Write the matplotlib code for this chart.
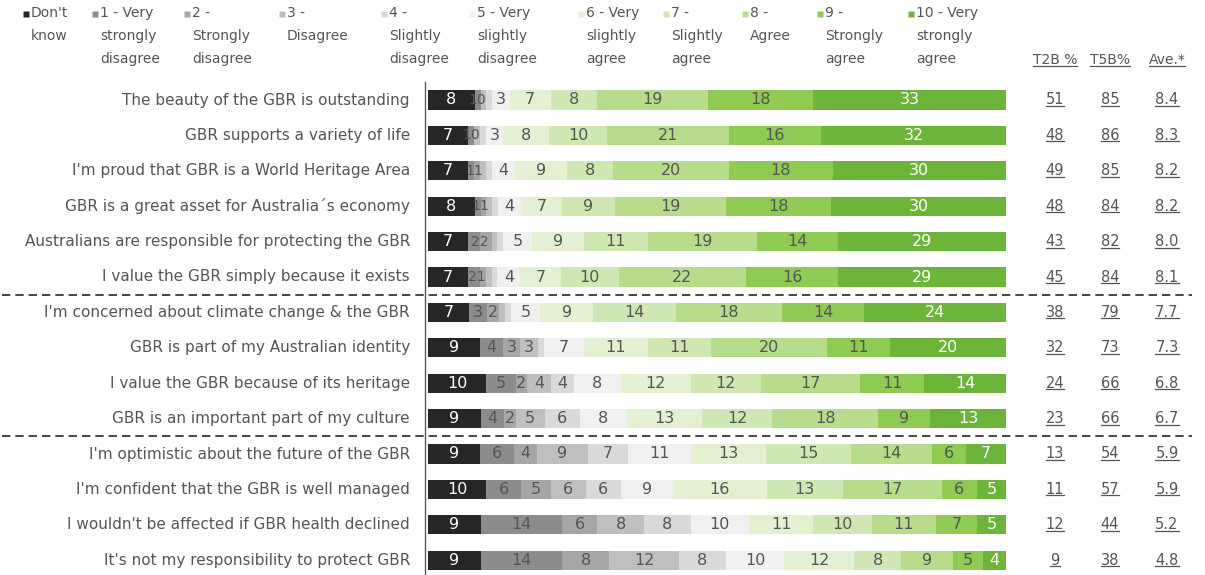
import matplotlib.pyplot as plt
import numpy as np

# 1. Data (percent of respondents per rating, one list per rating category)
statements = [
    "The beauty of the GBR is outstanding",
    "GBR supports a variety of life",
    "I'm proud that GBR is a World Heritage Area",
    "GBR is a great asset for Australia\u00b4s economy",
    "Australians are responsible for protecting the GBR",
    "I value the GBR simply because it exists",
    "I'm concerned about climate change & the GBR",
    "GBR is part of my Australian identity",
    "I value the GBR because of its heritage",
    "GBR is an important part of my culture",
    "I'm optimistic about the future of the GBR",
    "I'm confident that the GBR is well managed",
    "I wouldn't be affected if GBR health declined",
    "It's not my responsibility to protect GBR",
]

dont_know = [8, 7, 7, 8, 7, 7, 7, 9, 10, 9, 9, 10, 9, 9]
r1 = [1, 1, 1, 1, 2, 2, 3, 4, 5, 4, 6, 6, 14, 14]
r2 = [0, 0, 1, 1, 2, 1, 2, 3, 2, 2, 4, 5, 6, 8]
r3 = [1, 1, 1, 1, 1, 1, 1, 3, 4, 5, 9, 6, 8, 12]
r4 = [1, 1, 1, 1, 1, 1, 1, 1, 4, 6, 7, 6, 8, 8]
r5 = [3, 3, 4, 4, 5, 4, 5, 7, 8, 8, 11, 9, 10, 10]
r6 = [7, 8, 9, 7, 9, 7, 9, 11, 12, 13, 13, 16, 11, 12]
r7 = [8, 10, 8, 9, 11, 10, 14, 11, 12, 12, 15, 13, 10, 8]
r8 = [19, 21, 20, 19, 19, 22, 18, 20, 17, 18, 14, 17, 11, 9]
r9 = [18, 16, 18, 18, 14, 16, 14, 11, 11, 9, 6, 6, 7, 5]
r10 = [33, 32, 30, 30, 29, 29, 24, 20, 14, 13, 7, 5, 5, 4]

t2b = ["51", "48", "49", "48", "43", "45", "38", "32", "24", "23", "13", "11", "12", "9"]
t5b = ["85", "86", "85", "84", "82", "84", "79", "73", "66", "66", "54", "57", "44", "38"]
ave = ["8.4", "8.3", "8.2", "8.2", "8.0", "8.1", "7.7", "7.3", "6.8", "6.7", "5.9", "5.9", "5.2", "4.8"]

legend_labels = [
    "Don't\nknow", "1 - Very\nstrongly\ndisagree", "2 -\nStrongly\ndisagree",
    "3 -\nDisagree", "4 -\nSlightly\ndisagree", "5 - Very\nslightly\ndisagree",
    "6 - Very\nslightly\nagree", "7 -\nSlightly\nagree", "8 -\nAgree",
    "9 -\nStrongly\nagree", "10 - Very\nstrongly\nagree",
]
headers = ["T2B %", "T5B%", "Ave.*"]

# 2. Styling
colors = ['#262626', '#8c8c8c', '#a6a6a6', '#bfbfbf', '#d9d9d9', '#f0f0f0',
          '#e3f1d2', '#cfe8b3', '#b6dc8c', '#8fcb52', '#6db43a']
white_text = {0, 10}
text_col = '#555555'
plt.rcParams['font.family'] = ['DejaVu Sans']

W, H = 1205, 575
bar_x0, bar_x1 = 428, 1006
row0_px, row_step = 100, 35.4
px_per_pct = (bar_x1 - bar_x0) / 100.0

fig = plt.figure(figsize=(W / 100, H / 100), dpi=100)
ax = fig.add_axes([bar_x0 / W, 0, (bar_x1 - bar_x0) / W, 1])
ax.set_xlim(0, 100)
ax.set_ylim((H - row0_px) / row_step, -row0_px / row_step)
ax.axis('off')

def px_x(px):
    return (px - bar_x0) / px_per_pct

def px_y(px):
    return (px - row0_px) / row_step

series = [dont_know, r1, r2, r3, r4, r5, r6, r7, r8, r9, r10]
data = np.array(series, dtype=float).T
n = len(statements)
y = np.arange(n)
scaled = data / data.sum(axis=1, keepdims=True) * 100
left = np.zeros(n)
starts = np.zeros_like(scaled)

for k in range(data.shape[1]):
    ax.barh(y, scaled[:, k], left=left, height=0.54, color=colors[k], edgecolor='none')
    starts[:, k] = left
    left = left + scaled[:, k]

for i in range(n):
    for k in range(data.shape[1]):
        v = int(data[i, k])
        col = 'white' if k in white_text else text_col
        if k in (1, 2) and data[i, 1] <= 2 and data[i, 2] <= 2:
            # two tiny segments: labels sit side by side
            if k == 1:
                mid = starts[i, 1] + (scaled[i, 1] + scaled[i, 2]) / 2
                ax.text(mid, y[i], f"{int(data[i, 1])}{int(data[i, 2])}", ha='center',
                        va='center', fontsize=10, color=text_col)
            continue
        if k in (1, 2) or v >= 2:
            ax.text(starts[i, k] + scaled[i, k] / 2, y[i], str(v), ha='center', va='center',
                    fontsize=11.5, color=col)

# statement labels
for i, s in enumerate(statements):
    ax.text(px_x(410), y[i], s, ha='right', va='center', fontsize=11, color=text_col, clip_on=False)

# right hand columns (underlined)
col_px = [1055, 1110, 1167]
underlined = []
for i in range(n):
    for cx, val in zip(col_px, [t2b[i], t5b[i], ave[i]]):
        underlined.append(ax.text(px_x(cx), y[i], val, ha='center', va='center',
                                  fontsize=10.5, color=text_col, clip_on=False))
for cx, h in zip(col_px, headers):
    underlined.append(ax.text(px_x(cx), px_y(60), h, ha='center', va='center',
                              fontsize=10, color=text_col, clip_on=False))

renderer = fig.canvas.get_renderer()
for t in underlined:
    bb = t.get_window_extent(renderer)
    yy = bb.y0 + 1.5
    fig.add_artist(plt.Line2D([bb.x0 / W, bb.x1 / W], [yy / H, yy / H],
                              color=text_col, lw=0.9))

# axis line and separators
ax.plot([px_x(425), px_x(425)], [px_y(82), px_y(H)], color='#595959', lw=1, clip_on=False)
for sep in (5.5, 9.5):
    ax.plot([px_x(2), px_x(1192)], [sep, sep], color='#262626', lw=1.2,
            linestyle=(0, (5, 3)), clip_on=False)

# legend
leg_px = [26, 95, 187, 282, 384, 472, 581, 666, 745, 820, 911]
for k, lab in enumerate(legend_labels):
    ax.plot(px_x(leg_px[k]), px_y(14), marker='s', ms=5, color=colors[k], mec='none', clip_on=False)
    ax.text(px_x(leg_px[k] + 5), px_y(6), lab, ha='left', va='top', fontsize=10,
            color=text_col, linespacing=1.8, clip_on=False)

fig.savefig('out.png', dpi=100)
